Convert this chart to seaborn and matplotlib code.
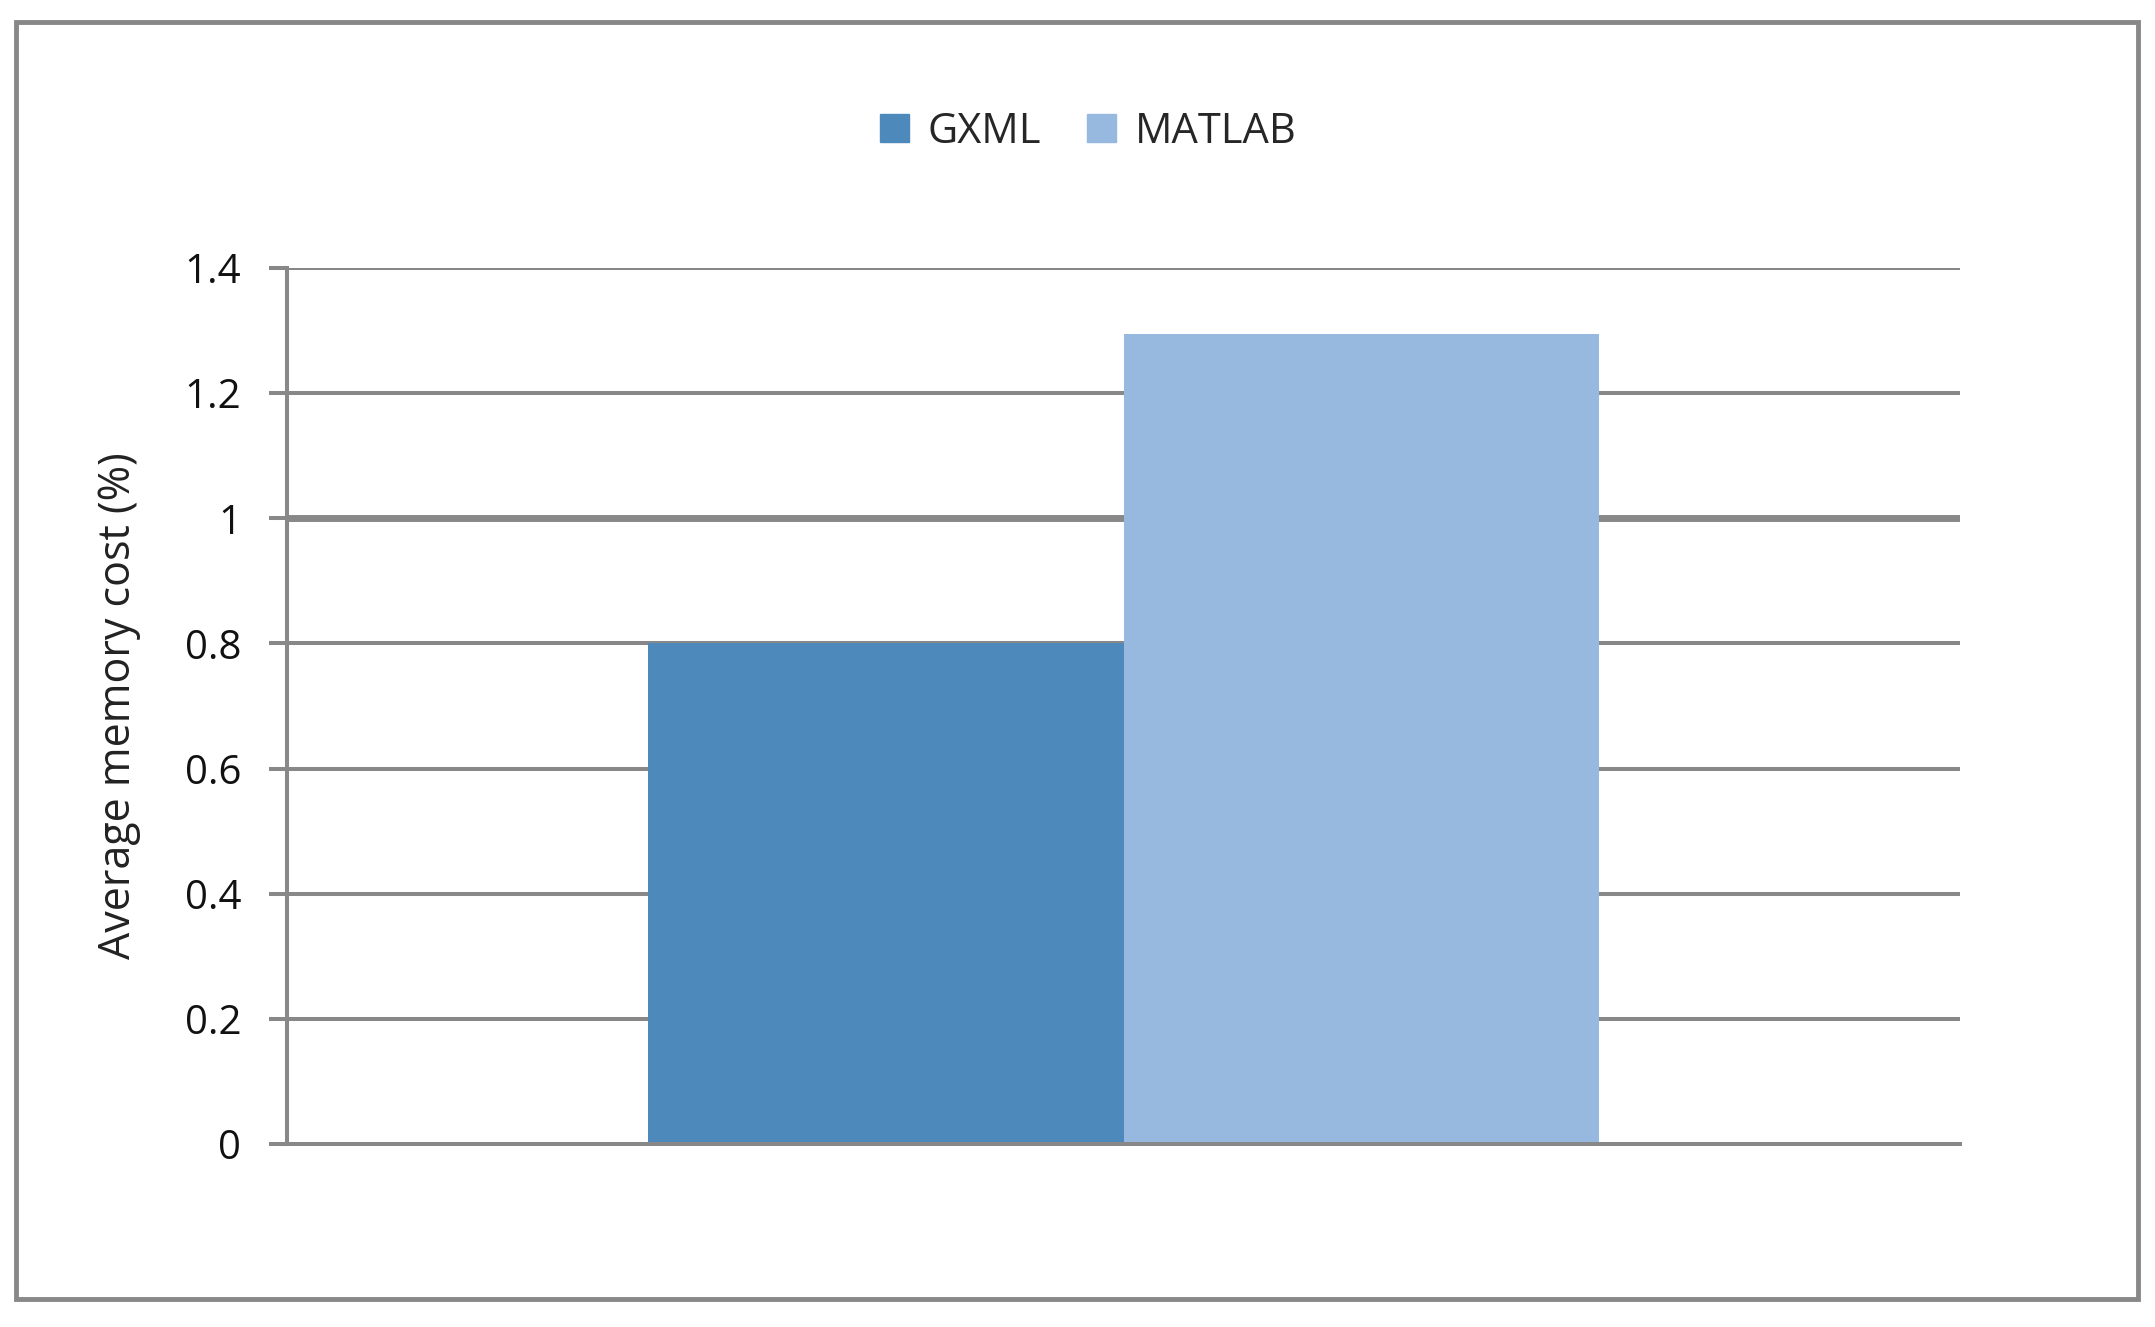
import numpy as np
import pandas as pd
from matplotlib import pyplot as plt
from matplotlib.patches import Rectangle
import seaborn as sb

# values
methods = ["GXML", "MATLAB"]
memory_cost = [0.80, 1.295]
yticks = [0, 0.2, 0.4, 0.6, 0.8, 1.0, 1.2, 1.4]
ytick_labels = ["0", "0.2", "0.4", "0.6", "0.8", "1", "1.2", "1.4"]
colors = ["#4E89BC", "#97B8DF"]

W, H = 2155, 1327
GRAY = "#888888"

sb.set_style("white")
plt.rcParams["font.family"] = ["Open Sans", "DejaVu Sans"]

df = pd.DataFrame({"group": [""] * len(methods), "method": methods, "cost": memory_cost})

fig = plt.figure(figsize=(W / 100, H / 100), dpi=100)
ax = fig.add_axes([287 / W, 1 - 1144 / H, 1673 / W, 876 / H])

sb.barplot(df, x="group", y="cost", hue="method", palette=colors,
           width=0.568, saturation=1, linewidth=0, ax=ax, legend=False)

ax.set_ylim(0, 1.4)
ax.set_xlim(-0.5, 0.5)
ax.set_yticks(yticks)
ax.set_yticklabels(ytick_labels)
ax.set_xticks([])
ax.set_xlabel("")
ax.set_ylabel("Average memory cost (%)", fontsize=31, color="#222222")
ax.yaxis.set_label_coords(-0.087, 0.5)

# horizontal gridlines, the one at 1 is drawn heavier
for y in yticks[1:]:
    lw = 5.0 if y == 1.0 else 2.9
    ax.axhline(y, color=GRAY, lw=lw, zorder=0.5)

for side in ["top", "right"]:
    ax.spines[side].set_visible(False)
for side in ["left", "bottom"]:
    ax.spines[side].set_color(GRAY)
    ax.spines[side].set_linewidth(2.9)
ax.tick_params(axis="y", length=13, width=2.9, color=GRAY, labelsize=29,
               pad=20, left=True, labelcolor="#111111")

handles = [Rectangle((0, 0), 1, 1, color=c) for c in colors]
fig.legend(handles, methods, loc="center", bbox_to_anchor=(1088 / W, 1 - 132 / H),
           ncol=2, frameon=False, fontsize=30, handlelength=0.7, handleheight=0.65,
           handletextpad=0.45, columnspacing=1.1)

# outer chart frame
fig.patches.append(Rectangle((16 / W, 1 - 1299 / H), 2122 / W, 1277 / H,
                             transform=fig.transFigure, fill=False,
                             edgecolor=GRAY, lw=3.5))

fig.savefig("out.png", dpi=100)
